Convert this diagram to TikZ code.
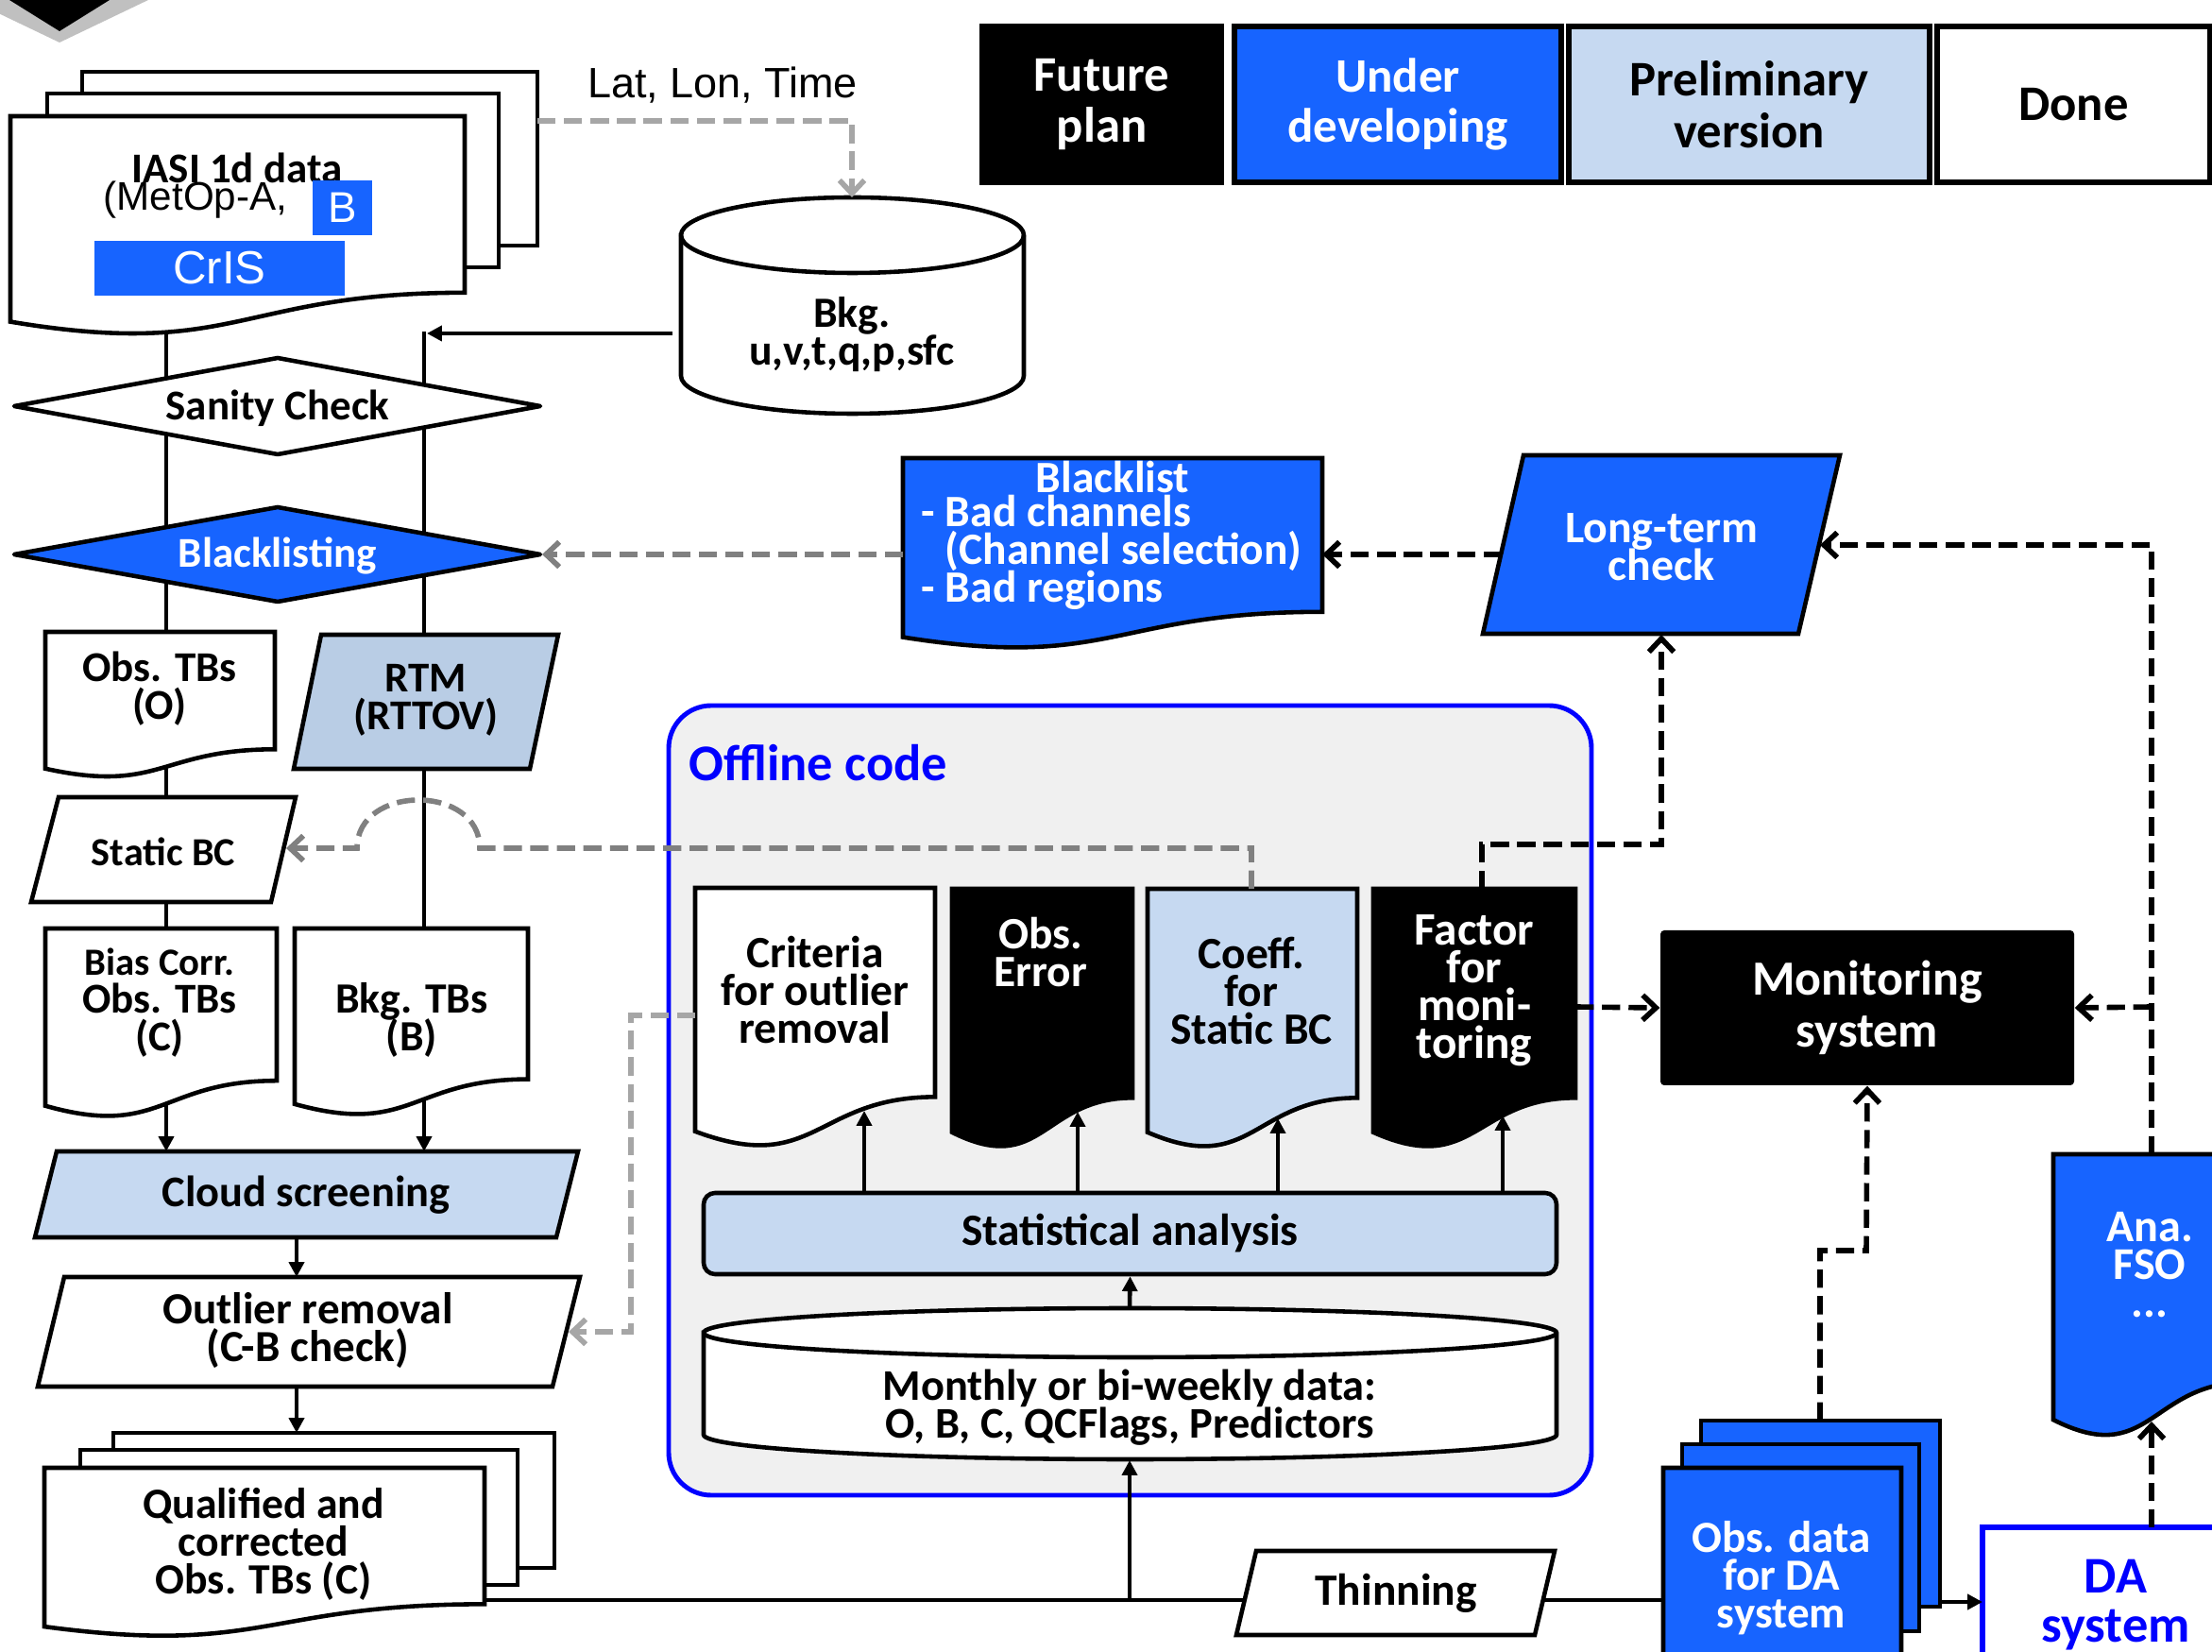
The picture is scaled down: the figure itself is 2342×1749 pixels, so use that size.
\documentclass[tikz,border=0pt]{standalone}
\usepackage{fontspec}
\setmainfont{Carlito}
\newfontfamily\arialf{Liberation Sans}
\usetikzlibrary{arrows.meta}
\definecolor{ublue}{RGB}{23,100,255}
\definecolor{lblue}{RGB}{198,217,241}
\definecolor{rblue}{RGB}{185,205,229}
\definecolor{offgray}{RGB}{240,240,240}
\definecolor{pblue}{RGB}{0,0,255}
\definecolor{dgray}{RGB}{128,128,128}
\definecolor{lgray}{RGB}{166,166,166}
\definecolor{chev}{RGB}{192,192,192}
\lineskiplimit=-100pt
\newcommand\fs[2]{\fontsize{#1}{#2}\selectfont\bfseries}
\newcommand\docu[5]{\path[#1] (#2,#3) -- ({#2+#4},#3) -- ({#2+#4},{#3+0.802*#5}) .. controls ({#2+0.5*#4},{#3+0.802*#5}) and ({#2+0.5*#4},{#3+1.107*#5}) .. (#2,{#3+0.934*#5}) -- cycle;}
\begin{document}
\begin{tikzpicture}[x=0.1mm,y=-0.1mm,
  shp/.style={draw,line width=1.3pt,line join=miter},
  dshp/.style={draw,line width=1.3pt,line join=round},
  lbl/.style={align=center,inner sep=0pt,font=\fs{13.5}{11.4}},
  ln/.style={line width=1.3pt},
  sarr/.style={ln,-{Triangle[length=4.5pt,width=4.5pt]}},
  darr/.style={line width=1.6pt,dash pattern=on 5.5pt off 2.5pt,-{Straight Barb[length=4pt,width=7.5pt]}},
  legend/.style={draw,line width=1.6pt,minimum width=#1,minimum height=16.5mm,align=center,inner sep=0pt,font=\fs{15}{15.6}}]
\useasboundingbox (0,0) rectangle (2342,1749);

% chevron at top left
\fill[chev] (-31,0) -- (157,0) -- (63,45) -- cycle;
\fill[black] (10,0) -- (116,0) -- (63,33) -- cycle;

% offline panel
\draw[line width=1.4pt,draw=pblue,fill=offgray,rounded corners=4.5mm] (708,747) rectangle (1685,1583);
\node[anchor=west,inner sep=0pt,text=pblue,font=\fs{15.5}{16}] (offl) at (729,808) {Offline code};

% coordinates
\coordinate (iasiS) at (176,330);
\coordinate (biasS) at (176,1168);
\coordinate (cloudN1) at (176,1219);
\coordinate (rline) at (449,351);
\coordinate (bkgtbS) at (449,1164);
\coordinate (cloudN2) at (449,1219);
\coordinate (qualE) at (513,1694);
\coordinate (obsdaW) at (1761,1694);
\coordinate (branch) at (1196,1694);

% background solid lines
\draw[ln] (iasiS) -- (biasS);
\draw[ln] (rline) -- (bkgtbS);
\draw[ln] (qualE) -- (obsdaW);

% ---------- shapes ----------
% IASI stack
\draw[shp,fill=white] (87,76) rectangle (569,260);
\draw[shp,fill=white] (50,99) rectangle (528,283);
\docu{shp,fill=white}{11}{123}{481}{233}
\node[lbl,font=\fs{12.8}{11}] (iasi) at (251,178) {IASI 1d data};
\node[anchor=west,inner sep=0pt,font=\arialf\fontsize{12}{12}\selectfont] (metop) at (109,212) {(MetOp-A,};
\node[fill=ublue,text=white,minimum width=6.3mm,minimum height=5.8mm,inner sep=0pt,font=\arialf\fontsize{13}{13}\selectfont] (satB) at (362.5,220) {B};
\node[fill=ublue,text=white,minimum width=26.5mm,minimum height=5.8mm,inner sep=0pt,font=\arialf\fontsize{14}{14}\selectfont] (cris) at (232.5,284) {CrIS};

% Lat Lon Time
\node[inner sep=0pt,font=\arialf\fontsize{12.8}{13}\selectfont] (latlon) at (765,90) {Lat, Lon, Time};

% Bkg cylinder
\draw[shp,fill=white] (721,249) -- (721,398) arc[start angle=180,end angle=0,x radius=181.5,y radius=40] -- (1084,249) arc[start angle=0,end angle=-180,x radius=181.5,y radius=40] -- cycle;
\draw[shp] (721,249) arc[start angle=180,end angle=0,x radius=181.5,y radius=40];
\node[lbl,font=\fs{13}{11.4}] (bkg) at (902,354) {Bkg.\\u,v,t,q,p,sfc};
\coordinate (bkgT) at (902,209);
\coordinate (bkgW) at (712,353);

% legend
\node[legend=25.3mm,fill=black,text=white] (fut) at (1166.5,110.5) {Future\\plan};
\node[legend=34.6mm,fill=ublue,text=white,font=\fs{14.5}{15}] (und) at (1480,110.5) {Under\\developing};
\node[legend=38.2mm,fill=lblue] (pre) at (1852,110.5) {Preliminary\\version};
\node[legend=28.9mm,fill=white] (done) at (2195.5,110.5) {Done};

% Sanity check & Blacklisting
\draw[dshp,fill=white] (15,430) -- (294,379) -- (572,430) -- (294,481) -- cycle;
\node[lbl,font=\fs{12.8}{11.4}] (sanity) at (294,432) {Sanity Check};
\draw[dshp,fill=ublue] (15,587) -- (294,537) -- (572,587) -- (294,637) -- cycle;
\node[lbl,font=\fs{12.8}{11.4},text=white] (blk) at (294,589) {Blacklisting};
\coordinate (blkE) at (574,587);

% Obs TBs (O)
\docu{shp,fill=white}{48}{669}{243}{155}
\node[lbl,font=\fs{12.8}{11.4}] (obsO) at (169,729) {Obs. TBs\\(O)};
% RTM
\draw[shp,fill=rblue] (340,672) -- (591,672) -- (561,814) -- (311,814) -- cycle;
\node[lbl,font=\fs{12.8}{11.4}] (rtm) at (451,741) {RTM\\(RTTOV)};
% Static BC
\draw[shp,fill=white] (62,844) -- (313,844) -- (287,955) -- (33,955) -- cycle;
\node[lbl,font=\fs{12}{11.4}] (sbc) at (173,902) {Static BC};
\coordinate (sbcE) at (303,898);
% Bias corr
\docu{shp,fill=white}{48}{983}{245}{201}
\node[lbl,font=\fs{12.8}{11.4}] (bias) at (169,1062) {{\fontsize{11.6}{11.4}\selectfont Bias Corr.}\\Obs. TBs\\(C)};
% Bkg TBs
\docu{shp,fill=white}{312}{983}{247}{199}
\node[lbl,font=\fs{13}{11.4}] (bkgtb) at (436,1080) {Bkg. TBs\\(B)};
% Cloud screening
\draw[shp,fill=lblue] (60,1219) -- (612,1219) -- (589,1310) -- (37,1310) -- cycle;
\node[lbl,font=\fs{13.2}{11.4}] (cloud) at (324,1265) {Cloud screening};
% Outlier removal
\draw[shp,fill=white] (68,1352) -- (614,1352) -- (585,1468) -- (40,1468) -- cycle;
\node[lbl,font=\fs{13.4}{11.4}] (outl) at (326,1409) {Outlier removal\\(C-B check)};
\coordinate (outlE) at (602,1410);
% Qualified stack
\draw[shp,fill=white] (120,1517) rectangle (587,1660);
\draw[shp,fill=white] (85,1535) rectangle (548,1678);
\docu{shp,fill=white}{47}{1554}{466}{180}
\node[lbl,font=\fs{13}{11.4}] (qual) at (279,1635) {Qualified and\\corrected\\Obs. TBs (C)};

% Blacklist document
\docu{shp,fill=ublue}{956}{485}{444}{203}
\node[lbl,text=white] (blT) at (1178,505) {Blacklist};
\node[lbl,align=left,anchor=west,text=white] (blist) at (975,585) {- Bad channels\\\hphantom{- }(Channel selection)\\- Bad regions};
\coordinate (blW) at (956,587);
\coordinate (blE) at (1400,587);
% Long-term check
\draw[shp,fill=ublue] (1613,482) -- (1948,482) -- (1904,671) -- (1570,671) -- cycle;
\node[lbl,font=\fs{13.6}{11.4},text=white] (ltc) at (1759,579) {Long-term\\check};
\coordinate (ltcW) at (1590,587);
\coordinate (ltcE) at (1927,577);
\coordinate (ltcS) at (1759,672);

% Offline docs
\docu{shp,fill=white}{736}{940}{254}{276}
\node[lbl] (crit) at (863,1048) {Criteria\\for outlier\\removal};
\coordinate (critW) at (736,1075);
\docu{shp,fill=black}{1008}{941}{191}{276}
\node[lbl,text=white] (oerr) at (1102,1008) {Obs.\\Error};
\docu{shp,fill=lblue}{1215}{941}{222}{276}
\node[lbl] (coef) at (1325,1049) {Coeff.\\for\\Static BC};
\coordinate (coefN) at (1325,941);
\docu{shp,fill=black}{1454}{941}{214}{276}
\node[lbl,font=\fs{14}{11.4},text=white] (fact) at (1561,1049) {Factor\\for\\moni-\\toring};
\coordinate (factN) at (1569,941);
\coordinate (factE) at (1668,1066);

% Statistical analysis
\node[shp,fill=lblue,rounded corners=1.2mm,minimum width=90.3mm,minimum height=8.6mm,inner sep=0pt,font=\fs{13.5}{11.4}] (stat) at (1196.5,1306) {Statistical analysis};
% Monthly cylinder
\draw[shp,fill=white] (745,1411) -- (745,1519) arc[start angle=180,end angle=0,x radius=451.5,y radius=26] -- (1648,1411) arc[start angle=0,end angle=-180,x radius=451.5,y radius=26] -- cycle;
\draw[shp] (745,1411) arc[start angle=180,end angle=0,x radius=451.5,y radius=26];
\node[lbl,font=\fs{13.2}{11.4}] (month) at (1196,1490) {Monthly or bi-weekly data:\\O, B, C, QCFlags, Predictors};
\coordinate (monthN) at (1196,1385);
\coordinate (monthS) at (1196,1546);

% Thinning
\draw[shp,fill=white] (1330,1642) -- (1646,1642) -- (1625,1731) -- (1309,1731) -- cycle;
\node[lbl] (thin) at (1478,1687) {Thinning};

% Obs data stack
\draw[shp,fill=ublue] (1801,1504) rectangle (2054,1701);
\draw[shp,fill=ublue] (1781,1529) rectangle (2032,1727);
\docu{shp,fill=ublue}{1761}{1554}{252}{250}
\node[lbl,font=\fs{13.4}{11.4},text=white] (obsda) at (1886,1671) {Obs. data\\for DA\\system};
\coordinate (obsdaN) at (1927,1504);
\coordinate (obsdaE) at (2054,1696);

% Monitoring
\node[fill=black,rounded corners=0.4mm,minimum width=43.8mm,minimum height=16.4mm,inner sep=0pt,align=center,text=white,font=\fs{14.8}{15.6}] (mon) at (1977,1067) {Monitoring\\system};

% Ana FSO
\docu{shp,fill=ublue}{2174}{1222}{205}{301}
\node[lbl,font=\fs{13.7}{11.4},text=white] (ana) at (2276,1339) {Ana.\\FSO\\...};
\coordinate (anaN) at (2278,1222);
\coordinate (anaS) at (2278,1505);
\coordinate (anaJ) at (2278,1066);

% DA system
\draw[line width=1.6pt,draw=pblue,fill=white] (2099,1617) rectangle (2400,1800);
\node[align=center,inner sep=0pt,text=pblue,font=\fs{15.5}{14.8}] (da) at (2240,1699) {DA\\system};
\coordinate (daW) at (2099,1696);
\coordinate (daN) at (2278,1617);

% ---------- solid arrows ----------
\draw[sarr] (bkgW) -- (452,353);
\draw[sarr] (biasS) -- (cloudN1);
\draw[sarr] (bkgtbS) -- (cloudN2);
\draw[sarr] (314,1310) -- (314,1352);
\draw[sarr] (314,1468) -- (314,1517);
\draw[sarr] (branch) -- (monthS);
\draw[sarr] (monthN) -- (stat.south);
\draw[sarr] (915,1263) -- (915,1176);
\draw[sarr] (1141,1263) -- (1141,1177);
\draw[sarr] (1353,1263) -- (1353,1184);
\draw[sarr] (1591,1263) -- (1591,1181);
\draw[sarr] (obsdaE) -- (daW);

% ---------- dashed arrows ----------
\draw[darr,lgray] (569,128) -- (902,128) -- (bkgT);
\draw[darr,dgray] (blW) -- (blkE);
\draw[darr] (ltcW) -- (blE);
\draw[darr,dgray] (coefN) -- (1325,898) -- (508,898) .. controls (508,830) and (378,830) .. (378,898) -- (sbcE);
\draw[darr,lgray] (critW) -- (668,1075) -- (668,1410) -- (outlE);
\draw[darr] (factN) -- (1569,894) -- (1759,894) -- (ltcS);
\draw[darr] (factE) -- (mon.west);
\draw[darr] (anaN) -- (2278,577) -- (ltcE);
\draw[darr] (anaJ) -- (mon.east);
\draw[darr] (obsdaN) -- (1927,1324) -- (1976,1324) -- (mon.south);
\draw[darr] (daN) -- (anaS);
\end{tikzpicture}
\end{document}
